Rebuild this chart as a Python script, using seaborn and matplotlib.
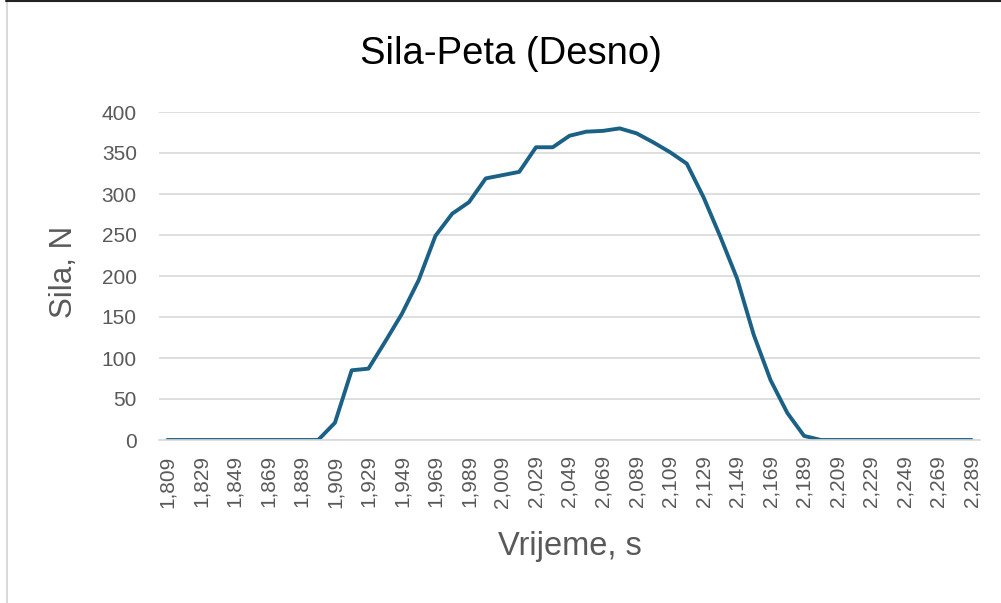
import numpy as np
import pandas as pd
import matplotlib
matplotlib.use('Agg')
import matplotlib.pyplot as plt
from matplotlib.lines import Line2D
import seaborn as sns

# Data
vrijeme = [1.809, 1.819, 1.829, 1.839, 1.849, 1.859, 1.869, 1.879, 1.889, 1.899,
           1.909, 1.919, 1.929, 1.939, 1.949, 1.959, 1.969, 1.979, 1.989, 1.999,
           2.009, 2.019, 2.029, 2.039, 2.049, 2.059, 2.069, 2.079, 2.089, 2.099,
           2.109, 2.119, 2.129, 2.139, 2.149, 2.159, 2.169, 2.179, 2.189, 2.199,
           2.209, 2.219, 2.229, 2.239, 2.249, 2.259, 2.269, 2.279, 2.289]
sila = [0, 0, 0, 0, 0, 0, 0, 0, 0, 0,
        21, 85, 87, 120, 154, 195, 249, 276, 290, 319,
        323, 327, 357, 357, 371, 376, 377, 380, 374, 363,
        351, 337, 296, 248, 197, 128, 73, 33, 5, 0,
        0, 0, 0, 0, 0, 0, 0, 0, 0]
y_ticks = [0, 50, 100, 150, 200, 250, 300, 350, 400]

df = pd.DataFrame({'Vrijeme': vrijeme, 'Sila': sila})

sns.set_theme(style='white')
plt.rcParams['font.family'] = ['Liberation Sans', 'DejaVu Sans']

grey = '#595959'
fig = plt.figure(figsize=(10.01, 6.03), dpi=100)
ax = fig.add_axes([159 / 1001, 1 - 440 / 603, (980 - 159) / 1001, (440 - 112) / 603])

sns.lineplot(data=df, x='Vrijeme', y='Sila', ax=ax, color='#1b6186', linewidth=2.8)

ax.set_ylim(0, 400)
ax.set_yticks(y_ticks)
ax.set_xlim(vrijeme[0] - 0.005, vrijeme[-1] + 0.005)
ax.set_xticks(vrijeme[::2])
ax.set_xticklabels([f'{v:.3f}'.replace('.', ',') for v in vrijeme[::2]], rotation=90)
ax.grid(axis='y', color='#d9d9d9', linewidth=1.2)
ax.set_axisbelow(True)
for s in ['top', 'right', 'left']:
    ax.spines[s].set_visible(False)
ax.spines['bottom'].set_color('#d9d9d9')
ax.spines['bottom'].set_linewidth(1.2)
ax.tick_params(axis='y', length=0, pad=16, labelsize=15, labelcolor=grey)
ax.tick_params(axis='x', length=0, pad=11, labelsize=15, labelcolor=grey)
ax.set_xlabel('')
ax.set_ylabel('')

fig.text(511 / 1001, 1 - 54 / 603, 'Sila-Peta (Desno)', ha='center', va='center',
         fontsize=27.5, color='black')
fig.text(64 / 1001, 1 - 272 / 603, 'Sila, N', ha='center', va='center',
         rotation=90, fontsize=22.5, color=grey)
fig.text(570 / 1001, 1 - 546 / 603, 'Vrijeme, s', ha='center', va='center',
         fontsize=23.5, color=grey)

# frame edges from the screenshot
fig.add_artist(Line2D([7 / 1001, 7 / 1001], [0, 1], color='#d9d9d9', linewidth=1.5))
fig.add_artist(Line2D([6 / 1001, 1], [1 - 1 / 603, 1 - 1 / 603], color='#222222', linewidth=1.5))

fig.savefig('out.png', dpi=100)
